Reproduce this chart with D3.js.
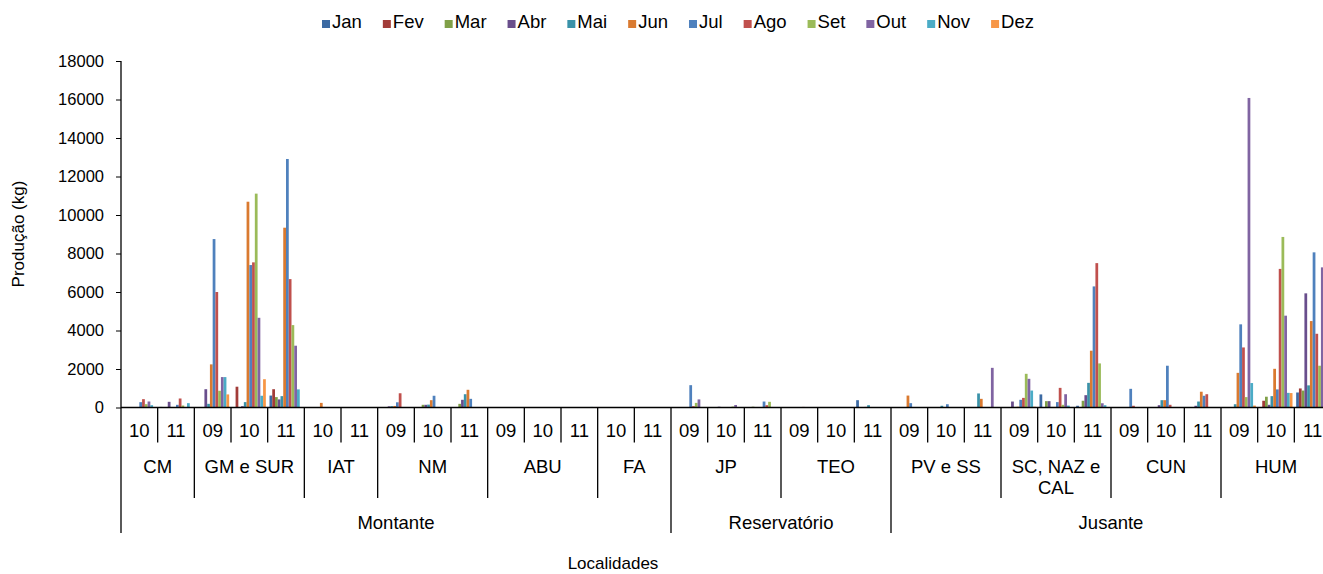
<!DOCTYPE html>
<html>
<head>
<meta charset="utf-8">
<script src="https://cdn.jsdelivr.net/npm/d3@7"></script>
<style>
  html, body { margin: 0; padding: 0; background: #fff; }
  svg { display: block; font-family: "Liberation Sans", Arial, sans-serif; }
</style>
</head>
<body>
<svg id="chart" width="1323" height="574"></svg>
<script>
// ---------- data ----------
const months = ["Jan","Fev","Mar","Abr","Mai","Jun","Jul","Ago","Set","Out","Nov","Dez"];
const monthColors = ["#3C6AA3","#A23C39","#80A048","#694E8C","#3A92A9","#DA7A30",
                     "#4F81BD","#C0504D","#9BBB59","#8064A2","#4BACC6","#F79646"];

// level 1: years, level 2: localities, level 3: regions
const years = ["10","11","09","10","11","10","11","09","10","11","09","10","11","10","11",
               "09","10","11","09","10","11",
               "09","10","11","09","10","11","09","10","11","09","10","11"];
const localidades = [
  {name: ["CM"], n: 2}, {name: ["GM e SUR"], n: 3}, {name: ["IAT"], n: 2},
  {name: ["NM"], n: 3}, {name: ["ABU"], n: 3}, {name: ["FA"], n: 2},
  {name: ["JP"], n: 3}, {name: ["TEO"], n: 3},
  {name: ["PV e SS"], n: 3}, {name: ["SC, NAZ e", "CAL"], n: 3}, {name: ["CUN"], n: 3}, {name: ["HUM"], n: 3}
];
const regioes = [{name: "Montante", n: 15}, {name: "Reservatório", n: 6}, {name: "Jusante", n: 12}];

// series values, one per month, 33 categories each
const jan = [0,30,0,0,620,0,0,0,0,0,0,0,0,0,0, 0,0,0,0,0,380, 0,0,20,0,680,90,0,0,0,0,0,780];
const fev = [0,0,0,1080,950,0,0,0,0,0,0,0,0,0,0, 0,0,0,0,0,0, 0,0,0,0,0,0,0,0,0,0,350,990];
const mar = [0,0,0,0,540,0,0,0,140,190,0,0,0,0,0, 0,0,40,0,0,0, 0,0,0,0,330,350,0,0,0,0,560,880];
const abr = [0,295,950,70,420,0,20,60,140,400,0,0,0,0,0, 0,40,0,0,0,30, 0,0,0,310,330,640,0,120,90,0,140,5930];
const mai = [0,0,190,280,590,0,20,70,150,690,0,0,0,0,0, 0,0,0,0,0,120, 0,90,730,30,30,1280,0,380,310,170,590,1150];
const jun = [0,0,2240,10690,9340,240,0,80,380,920,0,0,0,0,0, 0,0,0,0,0,0, 620,0,450,40,30,2950,0,380,820,1800,2010,4490];
const jul = [277,139,8750,7400,12910,0,0,270,610,450,0,0,0,0,0, 1160,0,310,0,0,0, 225,170,0,400,280,6290,970,2170,610,4320,940,8060];
const ago = [433,468,6000,7540,6670,0,0,740,0,0,0,0,0,0,0, 70,0,120,30,0,0, 0,0,0,500,1020,7500,90,140,690,3120,7200,3830];
const set = [173,104,870,11110,4280,0,0,0,0,0,0,0,0,0,0, 240,50,295,0,0,0, 0,0,0,1750,140,2290,0,0,0,540,8860,2170];
const out = [312,0,1580,4660,3210,0,0,0,0,0,0,0,0,0,0, 420,130,0,0,0,0, 0,0,2060,1490,690,220,0,0,0,16080,4770,7280];
const nov = [121,225,1580,610,940,0,0,0,0,0,0,0,30,0,0, 0,0,0,0,0,0, 0,0,0,880,100,120,0,0,0,1270,760,0];
const dez = [0,0,680,1470,0,0,0,0,0,0,0,0,0,0,0, 0,0,0,0,0,0, 0,0,0,40,0,0,0,0,0,100,750,0];
const series = [jan,fev,mar,abr,mai,jun,jul,ago,set,out,nov,dez];
const yTicks = [0,2000,4000,6000,8000,10000,12000,14000,16000,18000];

// ---------- layout ----------
const svg = d3.select("#chart");
const FS = 18.5;
const pL = 121, pR = 1331, pT = 61, pB = 407.5;

const x0 = d3.scaleBand().domain(d3.range(years.length)).range([pL, pR]).paddingInner(0).paddingOuter(0);
const x1 = d3.scaleBand().domain(months).range([0, x0.bandwidth()]).paddingInner(0).paddingOuter(0.667);
const y = d3.scaleLinear().domain([0, 18000]).range([pB, pT]);
const color = d3.scaleOrdinal().domain(months).range(monthColors);

// bars
const data = [];
years.forEach((yr, i) => months.forEach((m, j) => data.push({cat: i, m: m, v: series[j][i]})));
svg.append("g").selectAll("rect").data(data.filter(d => d.v > 0)).join("rect")
  .attr("x", d => x0(d.cat) + x1(d.m))
  .attr("width", x1.bandwidth())
  .attr("y", d => y(d.v))
  .attr("height", d => pB - y(d.v))
  .attr("fill", d => color(d.m));

// y axis
const yAxis = svg.append("g").attr("transform", `translate(${pL},0)`)
  .call(d3.axisLeft(y).tickValues(yTicks).tickSize(5).tickPadding(12).tickFormat(d3.format("d")));
yAxis.select(".domain").remove();
yAxis.selectAll("line").attr("stroke", "#000");
yAxis.selectAll("text").attr("font-size", 16.5).attr("font-family", "Liberation Sans, Arial, sans-serif").attr("fill", "#000");

// axis lines
svg.append("line").attr("x1", pL).attr("x2", pL).attr("y1", pT).attr("y2", 533).attr("stroke", "#000").attr("stroke-width", 1.3);
svg.append("line").attr("x1", pL).attr("x2", pR).attr("y1", pB).attr("y2", pB).attr("stroke", "#000").attr("stroke-width", 1.3);

// multi-level category axis
const gAx = svg.append("g");
const groupEnds = new Set(), regionEnds = new Set();
{ let c = 0; localidades.forEach(l => { c += l.n; groupEnds.add(c); }); }
{ let c = 0; regioes.forEach(r => { c += r.n; regionEnds.add(c); }); }
for (let i = 1; i <= years.length; i++) {
  const xx = i < years.length ? x0(i) : pR;
  const y2 = regionEnds.has(i) ? 533 : (groupEnds.has(i) ? 498 : 442.5);
  gAx.append("line").attr("x1", xx).attr("x2", xx).attr("y1", pB).attr("y2", y2).attr("stroke", "#000").attr("stroke-width", 1.3);
}
years.forEach((yr, i) => {
  gAx.append("text").attr("x", x0(i) + x0.bandwidth() / 2).attr("y", 436.7)
    .attr("text-anchor", "middle").attr("font-size", FS).text(yr);
});
{ let c = 0;
  localidades.forEach(l => {
    const cx = (x0(c) + (c + l.n < years.length ? x0(c + l.n) : pR)) / 2;
    l.name.forEach((ln, k) => {
      gAx.append("text").attr("x", cx).attr("y", 472.7 + k * 21.6)
        .attr("text-anchor", "middle").attr("font-size", FS).text(ln);
    });
    c += l.n;
  });
}
{ let c = 0;
  regioes.forEach(r => {
    const cx = (x0(c) + (c + r.n < years.length ? x0(c + r.n) : pR)) / 2;
    gAx.append("text").attr("x", cx).attr("y", 529.3)
      .attr("text-anchor", "middle").attr("font-size", FS).text(r.name);
    c += r.n;
  });
}

// titles
svg.append("text").attr("x", 613).attr("y", 569).attr("text-anchor", "middle").attr("font-size", 17).text("Localidades");
svg.append("text").attr("transform", "translate(24,234) rotate(-90)").attr("text-anchor", "middle").attr("font-size", 17).text("Produção (kg)");

// legend
const GAP = 21;
const lg = svg.append("g");
let lx = 0;
months.forEach((m, j) => {
  const g = lg.append("g");
  g.append("rect").attr("x", 0).attr("y", -8).attr("width", 8).attr("height", 8).attr("fill", monthColors[j]);
  const t = g.append("text").attr("x", 10).attr("y", 0).attr("font-size", FS).text(m);
  const w = 10 + t.node().getComputedTextLength();
  g.attr("transform", `translate(${lx},28)`);
  lx += w + GAP;
});
const totalW = lx - GAP;
lg.attr("transform", `translate(${678 - totalW / 2},0)`);
</script>
</body>
</html>
